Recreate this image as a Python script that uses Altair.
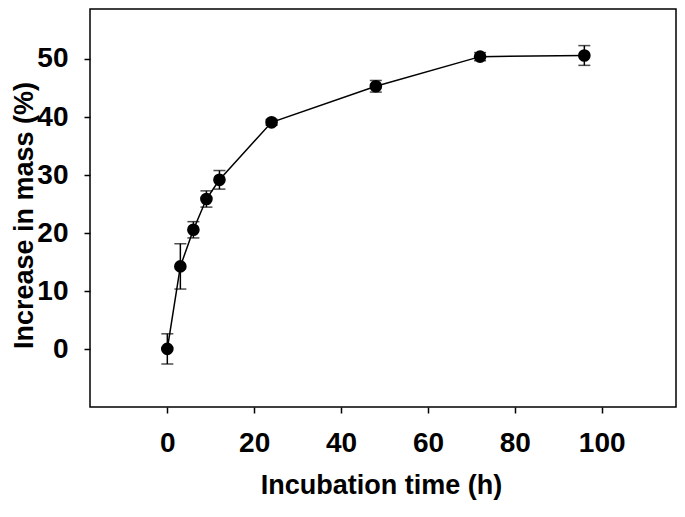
import altair as alt
import pandas as pd

time_h = [0, 3, 6, 9, 12, 24, 48, 72, 96]
mass_pct = [0.1, 14.3, 20.6, 25.9, 29.2, 39.1, 45.3, 50.4, 50.6]
err_pct = [2.6, 3.9, 1.4, 1.4, 1.6, 0.5, 1.0, 0.7, 1.7]

df = pd.DataFrame({"t": time_h, "m": mass_pct, "e": err_pct})
df["lo"] = df["m"] - df["e"]
df["hi"] = df["m"] + df["e"]

FONT = "Liberation Sans"
W, H = 586, 398

xscale = alt.Scale(domain=[-17.8, 117.1], nice=False, zero=False)
yscale = alt.Scale(domain=[-9.9, 58.6], nice=False, zero=False)

xaxis = alt.Axis(
    title="Incubation time (h)", values=[0, 20, 40, 60, 80, 100], grid=False,
    domain=False, ticks=True, tickSize=6, tickWidth=1.5, tickColor="black",
    labelFont=FONT, labelFontSize=28, labelFontWeight="bold", labelColor="black",
    labelPadding=16, titleFont=FONT, titleFontSize=27, titleFontWeight="bold",
    titleColor="black", titleX=291, titleY=86, titleBaseline="alphabetic",
    titleAnchor="middle",
)
yaxis = alt.Axis(
    title="Increase in mass (%)", values=[0, 10, 20, 30, 40, 50], grid=False,
    domain=False, ticks=True, tickSize=6, tickWidth=1.5, tickColor="black",
    labelFont=FONT, labelFontSize=28, labelFontWeight="bold", labelColor="black",
    labelPadding=16, titleFont=FONT, titleFontSize=27, titleFontWeight="bold",
    titleColor="black", titleX=-66, titleY=206, titleBaseline="middle",
    titleAnchor="middle", titleAngle=-90,
)

base = alt.Chart(df)
line = base.mark_line(color="black", strokeWidth=1.5).encode(
    x=alt.X("t:Q", scale=xscale, axis=xaxis),
    y=alt.Y("m:Q", scale=yscale, axis=yaxis),
)
rules = base.mark_rule(color="black", strokeWidth=1.5).encode(
    x="t:Q", y="lo:Q", y2="hi:Q"
)
cap_lo = base.mark_tick(color="black", orient="horizontal", size=12, thickness=1.5).encode(
    x="t:Q", y="lo:Q"
)
cap_hi = base.mark_tick(color="black", orient="horizontal", size=12, thickness=1.5).encode(
    x="t:Q", y="hi:Q"
)
pts = base.mark_point(filled=True, shape="circle", size=160, color="black", opacity=1).encode(
    x="t:Q", y="m:Q"
)

chart = (
    alt.layer(line, rules, cap_lo, cap_hi, pts)
    .properties(
        width=W, height=H,
        autosize=alt.AutoSizeParams(type="none"),
        padding={"left": 82, "top": 1, "right": 1, "bottom": 93},
        background="white",
    )
    .configure_view(stroke="black", strokeWidth=1.5)
)

chart.save("out.html", embed_options={"renderer": "svg", "actions": False})
